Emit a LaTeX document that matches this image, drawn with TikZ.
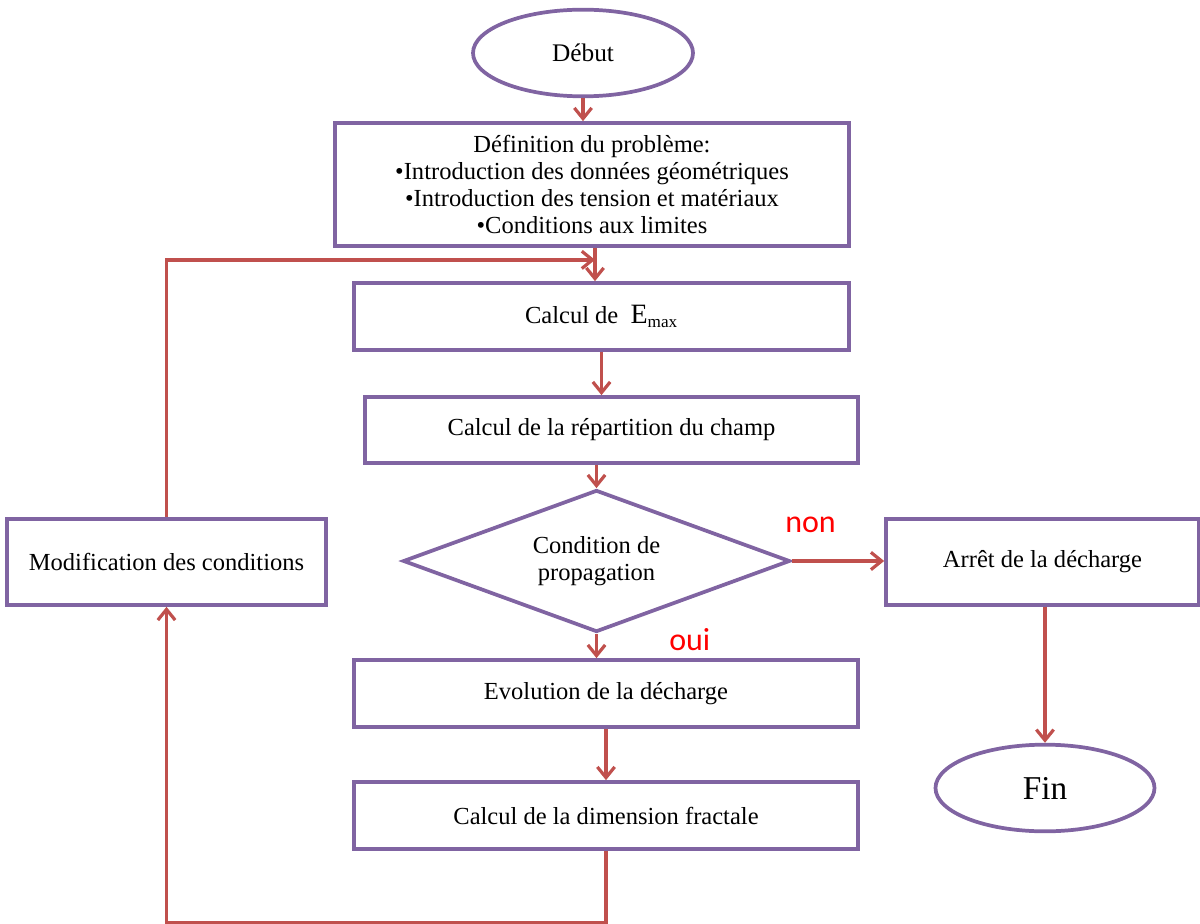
\documentclass[tikz,border=0pt]{standalone}
\usepackage{fontspec}
\setmainfont{Liberation Serif}
\newfontfamily\lblfont{Carlito}
\usetikzlibrary{shapes.geometric,arrows.meta,calc}
\definecolor{boxpurple}{RGB}{128,100,162}
\definecolor{arrred}{RGB}{192,80,77}
\begin{document}
\begin{tikzpicture}[x=0.75pt,y=-0.75pt,
  every node/.style={font=\fontsize{18.4}{20.25}\selectfont, text=black},
  stepbox/.style={draw=boxpurple, line width=2.8pt, fill=white, rectangle, align=center, inner sep=1pt},
  oval/.style={draw=boxpurple, line width=2.8pt, fill=white, ellipse, inner sep=0pt},
  decision/.style={draw=boxpurple, line width=2.8pt, fill=white, diamond, aspect=2.72, align=center, inner sep=0pt},
  arr/.style={draw=arrred, line width=2.6pt, -{Straight Barb[length=8pt,width=13pt,line width=2.4pt]}},
  lbl/.style={text=red, font=\lblfont\fontsize{24}{26}\selectfont}
]
\useasboundingbox (0,0) rectangle (1200,924);

\node[oval, minimum width=165pt, minimum height=65pt, font=\fontsize{19}{22}\selectfont] (debut) at (583,53) {Début};
\node[stepbox, minimum width=385.5pt, minimum height=92.25pt] (def) at (592,184.5)
  {Définition du problème:\\ •Introduction des données géométriques\\ •Introduction des tension et matériaux\\ •Conditions aux limites};
\node[stepbox, minimum width=371.25pt, minimum height=50.25pt] (fmax) at (601.5,316.5)
  {Calcul de \ {\fontsize{21}{22}\selectfont E}$_{\mathrm{max}}$};
\node[stepbox, minimum width=369.75pt, minimum height=49.5pt] (champ) at (611.5,430)
  {Calcul de la répartition du champ};
\node[decision, minimum width=290.25pt, minimum height=106.5pt] (dia) at (596.5,561)
  {Condition de\\ propagation};
\node[stepbox, minimum width=239.25pt, minimum height=64.5pt] (modif) at (166.5,562)
  {Modification des conditions};
\node[stepbox, minimum width=234.75pt, minimum height=64.5pt] (arret) at (1042.5,562)
  {Arrêt de la décharge};
\node[stepbox, minimum width=378pt, minimum height=50.25pt] (evol) at (606,693.5)
  {Evolution de la décharge};
\node[stepbox, minimum width=378pt, minimum height=50.25pt] (frac) at (606,815.5)
  {Calcul de la dimension fractale};
\node[oval, minimum width=164.25pt, minimum height=65pt, font=\fontsize{25}{28}\selectfont] (fin) at (1045,788) {Fin};

\node[lbl] (non) at ([xshift=14pt,yshift=27pt]dia.east) {non};
\node[lbl] (oui) at ([xshift=70pt,yshift=-4pt]dia.south) {oui};

\coordinate (d1) at ([xshift=2.25pt]def.south);
\coordinate (j) at ([yshift=-9pt]d1);

\draw[arr] (debut.south) -- (debut.south |- def.north);
\draw[arr] (d1) -- (d1 |- fmax.north);
\draw[arr] (fmax.south) -- (fmax.south |- champ.north);
\draw[arr] (champ.south -| dia.north) -- (dia.north);
\draw[arr] (dia.south) -- (dia.south |- evol.north);
\draw[arr] (evol.south) -- (evol.south |- frac.north);
\draw[arr] (dia.east) -- (dia.east -| arret.west);
\draw[arr] (arret.south -| fin.north) -- (fin.north);
\draw[arr] (frac.south) -- ++(0,72) -| (modif.south);
\draw[arr] (modif.north) |- (j);
\end{tikzpicture}
\end{document}
